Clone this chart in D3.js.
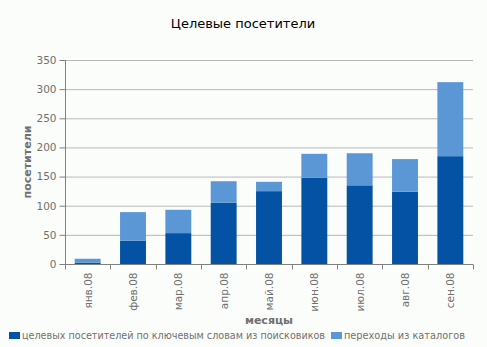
<!DOCTYPE html>
<html><head><meta charset="utf-8">
<script src="https://cdnjs.cloudflare.com/ajax/libs/d3/7.8.5/d3.min.js"></script>
<style>
html,body{margin:0;padding:0;background:#fbfdfb;}
svg{display:block;}
</style></head>
<body>
<script>
const months = ["янв.08","фев.08","мар.08","апр.08","май.08","июн.08","июл.08","авг.08","сен.08"];
const searchVisitors = [2, 40, 53, 105, 125, 148, 135, 124, 185];
const catalogVisitors = [7, 49, 40, 37, 16, 41, 55, 56, 127];
const yTicks = [0, 50, 100, 150, 200, 250, 300, 350];
const seriesNames = ["целевых посетителей по ключевым словам из поисковиков", "переходы из каталогов"];
const colors = ["#0452a4", "#5b97d5"];

const W = 487, H = 347;
const m = {left: 65, right: 14, top: 60, bottom: 83};
const svg = d3.select("body").append("svg").attr("width", W).attr("height", H);
svg.append("rect").attr("width", W).attr("height", H).attr("fill", "#fbfdfb");
const font = "DejaVu Sans, Verdana, sans-serif";

const x = d3.scaleBand().domain(months).range([m.left, W - m.right]).paddingInner(0.75/1.75).paddingOuter(0.75/3.5);
const y = d3.scaleLinear().domain([0, 350]).range([H - m.bottom, m.top]);

// gridlines
svg.append("g").selectAll("line").data(yTicks.filter(d => d > 0)).join("line")
  .attr("x1", m.left).attr("x2", W - m.right)
  .attr("y1", d => y(d) + 0.5).attr("y2", d => y(d) + 0.5)
  .attr("stroke", "#b8b8b8").attr("stroke-width", 1);

// stacked bars
const data = months.map((mo, i) => ({mo, a: searchVisitors[i], b: catalogVisitors[i]}));
const stack = d3.stack().keys(["a", "b"])(data);
svg.append("g").selectAll("g").data(stack).join("g").attr("fill", (d, i) => colors[i])
  .selectAll("rect").data(d => d).join("rect")
  .attr("x", d => x(d.data.mo)).attr("width", x.bandwidth())
  .attr("y", d => y(d[1])).attr("height", d => y(d[0]) - y(d[1]));

// y axis
const yAxis = svg.append("g").attr("transform", `translate(${m.left + 0.5},0)`)
  .call(d3.axisLeft(y).tickValues(yTicks).tickSize(6).tickPadding(3));
yAxis.select(".domain").attr("stroke", "#808080").attr("d", `M0,${y(350)}V${y(0)}`);
yAxis.selectAll(".tick line").attr("stroke", "#808080");
yAxis.selectAll("text").attr("font-family", font).attr("font-size", "10.5px").attr("fill", "#707070");

// x axis
const xAxis = svg.append("g").attr("transform", `translate(0,${y(0) + 0.5})`);
xAxis.append("line").attr("x1", m.left).attr("x2", W - m.right).attr("stroke", "#808080");
const bounds = d3.range(months.length + 1).map(i => m.left + i * (W - m.left - m.right) / months.length);
xAxis.selectAll(".tk").data(bounds).join("line").attr("class", "tk")
  .attr("x1", d => Math.round(d) + 0.5).attr("x2", d => Math.round(d) + 0.5)
  .attr("y1", 0).attr("y2", 5).attr("stroke", "#808080");
xAxis.selectAll("text").data(months).join("text")
  .attr("transform", d => `translate(${x(d) + x.bandwidth() / 2 + 4},8) rotate(-90)`)
  .attr("text-anchor", "end").attr("font-family", font).attr("font-size", "10.5px").attr("fill", "#707070")
  .text(d => d);

// title
svg.append("text").attr("x", 243).attr("y", 28).attr("text-anchor", "middle")
  .attr("font-family", font).attr("font-size", "13px").attr("fill", "#000").text("Целевые посетители");

// axis titles
svg.append("text").attr("transform", `translate(31,${(y(0) + y(350)) / 2}) rotate(-90)`)
  .attr("text-anchor", "middle").attr("font-family", font).attr("font-size", "11px").attr("font-weight", "bold")
  .attr("fill", "#707070").text("посетители");
svg.append("text").attr("x", (m.left + W - m.right) / 2).attr("y", 324).attr("text-anchor", "middle")
  .attr("font-family", font).attr("font-size", "11px").attr("font-weight", "bold")
  .attr("fill", "#707070").text("месяцы");

// legend
const leg = svg.append("g");
const legX = [9, 331];
const legLen = [303, 121];
seriesNames.forEach((n, i) => {
  leg.append("rect").attr("x", legX[i]).attr("y", 332).attr("width", 11).attr("height", 7).attr("fill", colors[i]);
  leg.append("text").attr("x", legX[i] + 13).attr("y", 339).attr("font-family", font).attr("font-size", "9.6px")
    .attr("textLength", legLen[i]).attr("lengthAdjust", "spacingAndGlyphs")
    .attr("fill", "#707070").text(n);
});
</script>
</body></html>
